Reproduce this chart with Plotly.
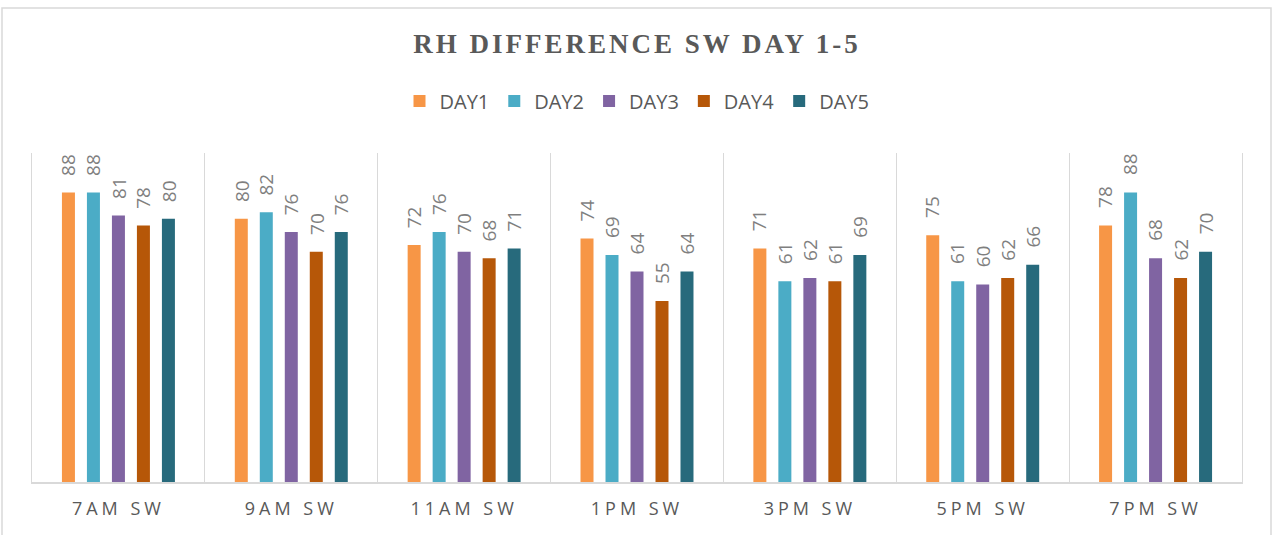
import plotly.graph_objects as go

categories = ["7AM SW", "9AM SW", "11AM SW", "1PM SW", "3PM SW", "5PM SW", "7PM SW"]
series_names = ["DAY1", "DAY2", "DAY3", "DAY4", "DAY5"]
day1 = [88, 80, 72, 74, 71, 75, 78]
day2 = [88, 82, 76, 69, 61, 61, 88]
day3 = [81, 76, 70, 64, 62, 60, 68]
day4 = [78, 70, 68, 55, 61, 62, 62]
day5 = [80, 76, 71, 64, 69, 66, 70]
series_values = [day1, day2, day3, day4, day5]
colors = ["#F79646", "#4BACC6", "#8064A2", "#B65708", "#276A7C"]

W, H = 1272, 535
ML, MR, MT, MB = 32, 30, 153, 53
BARGAP = 0.277
GROUPGAP = 0.48

fig = go.Figure()
for name, vals, col in zip(series_names, series_values, colors):
    fig.add_trace(go.Bar(name=name, x=categories, y=vals, marker=dict(color=col, line=dict(width=0))))

n = len(series_names)
slot = (1 - BARGAP) / n
annotations = []
for j, vals in enumerate(series_values):
    for i, v in enumerate(vals):
        annotations.append(dict(
            x=i + (j - (n - 1) / 2) * slot, y=v, xref="x", yref="y",
            text=str(v), showarrow=False, textangle=-90,
            xanchor="center", yanchor="bottom", yshift=15,
            font=dict(family="Open Sans", size=19, color="#7F7F7F"),
        ))

plot_h = H - MT - MB
plot_w = W - ML - MR
shapes = [dict(
    type="rect", xref="paper", yref="paper",
    x0=(2 - ML) / plot_w, x1=(W - 1 - ML) / plot_w,
    y0=-(H + 10 - (H - MB)) / plot_h, y1=(H - MB - 8) / plot_h,
    line=dict(color="#D9D9D9", width=1.5), fillcolor="rgba(0,0,0,0)", layer="below",
)]

fig.update_layout(
    width=W, height=H,
    margin=dict(l=ML, r=MR, t=MT, b=MB, autoexpand=False),
    paper_bgcolor="white", plot_bgcolor="white",
    barmode="group", bargap=BARGAP, bargroupgap=GROUPGAP,
    title=dict(
        text="<b>RH DIFFERENCE SW DAY 1-5</b>",
        x=0.5, xanchor="center", xref="paper",
        y=1 - 44 / H, yanchor="middle", yref="container",
        font=dict(family="Liberation Serif", size=27, color="#595959"),
    ),
    legend=dict(
        orientation="h", x=0.5, xanchor="center", xref="paper",
        y=(H - MB - 101) / plot_h, yanchor="middle", yref="paper",
        font=dict(family="Open Sans", size=20, color="#595959"),
        itemsizing="constant", traceorder="normal",
    ),
    xaxis=dict(
        type="category", tickson="boundaries", showgrid=True, gridcolor="#D9D9D9", gridwidth=1,
        showline=True, linecolor="#D9D9D9", linewidth=1.5, ticks="",
        tickfont=dict(family="Open Sans", size=18, color="#595959"),
        ticklabelstandoff=10,
    ),
    yaxis=dict(
        range=[0, 100], showgrid=False, zeroline=False, showticklabels=False, ticks="",
        showline=True, mirror=True, linecolor="#D9D9D9", linewidth=1,
    ),
    annotations=annotations,
    shapes=shapes,
)

post = """
document.documentElement.style.margin='0';
document.body.style.margin='0';
document.body.style.overflow='hidden';
var gd = document.querySelector('.plotly-graph-div');
function spacing(){
  document.querySelectorAll('.gtitle').forEach(function(t){t.style.letterSpacing='3px';});
  document.querySelectorAll('.xtick text').forEach(function(t){t.style.letterSpacing='4px';});
}
spacing();
if (gd && gd.on) { gd.on('plotly_afterplot', spacing); }
"""

fig.write_html("out.html", post_script=post, config={"displayModeBar": False})
